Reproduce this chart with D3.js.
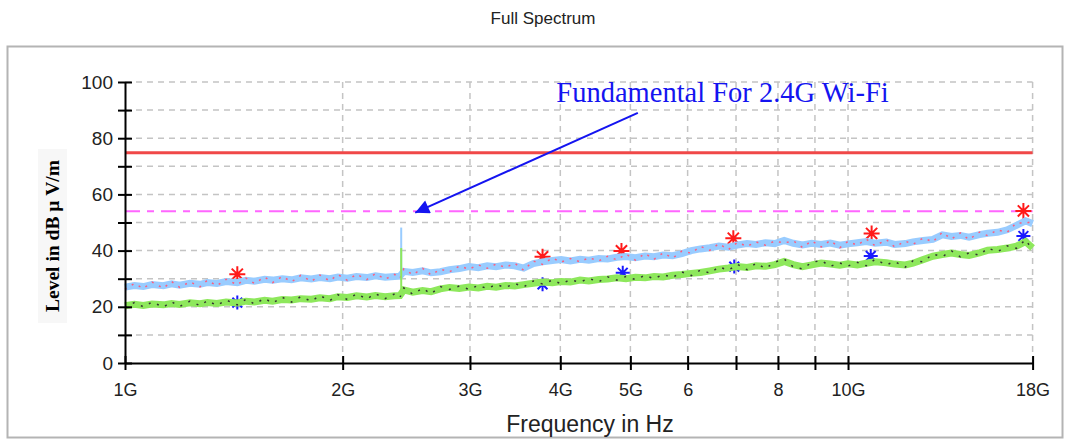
<!DOCTYPE html>
<html>
<head>
<meta charset="utf-8">
<script src="https://cdn.jsdelivr.net/npm/d3@7"></script>
<style>
  body { margin: 0; background: #fff; }
  text { font-family: "Liberation Sans", Arial, sans-serif; }
</style>
</head>
<body>
<div id="chart"></div>
<script>
var width = 1070;
var height = 441;

// frequency points in GHz
var freq = [1.00,1.03,1.06,1.09,1.13,1.16,1.19,1.23,1.27,1.30,
  1.34,1.38,1.43,1.47,1.51,1.56,1.60,1.65,1.70,1.75,
  1.81,1.86,1.92,1.97,2.03,2.09,2.16,2.22,2.29,2.36,
  2.40,2.43,2.50,2.58,2.65,2.73,2.81,2.90,2.99,3.08,
  3.17,3.26,3.36,3.46,3.56,3.67,3.78,3.90,4.01,4.13,
  4.26,4.38,4.52,4.65,4.79,4.93,5.08,5.24,5.39,5.55,
  5.72,5.89,6.07,6.25,6.44,6.63,6.83,7.03,7.25,7.46,
  7.69,7.92,8.16,8.40,8.65,8.91,9.18,9.45,9.74,10.0,
  10.3,10.6,10.9,11.3,11.6,12.0,12.3,12.7,13.1,13.5,
  13.9,14.3,14.7,15.2,15.6,16.1,16.6,17.1,17.6,18.0];

// light blue peak trace
var peakVert = [27.0,27.6,27.2,27.9,27.5,28.2,27.7,28.4,28.0,28.6,
  28.3,29.0,28.6,29.4,29.1,29.8,29.5,30.0,29.6,30.3,
  29.9,30.4,30.0,30.6,30.2,30.8,30.4,31.0,30.5,30.8,
  30.9,32.6,32.2,32.8,32.1,32.5,33.2,33.6,34.3,33.9,
  34.6,34.3,34.9,34.6,33.8,35.4,36.0,36.5,36.8,36.3,
  36.9,36.6,37.2,37.0,37.6,37.9,37.5,38.1,37.8,38.4,
  38.2,38.9,40.0,40.6,41.0,41.6,41.2,42.0,42.5,42.2,
  42.8,42.5,43.6,42.6,42.0,42.6,42.2,42.7,41.9,42.4,
  42.8,43.2,42.6,43.0,42.2,42.5,43.1,43.6,44.0,45.6,
  45.0,45.4,44.8,45.7,46.2,46.5,47.4,49.0,50.6,49.6];

// pink peak trace
var peakHor = [26.2,28.3,26.5,28.8,26.6,29.0,26.9,28.9,27.1,29.5,
  27.5,29.8,27.8,30.2,28.3,30.6,28.6,30.8,28.9,31.2,
  29.0,31.3,29.2,31.5,29.4,31.6,29.7,31.8,29.8,31.5,
  30.1,33.5,31.4,33.7,31.3,33.4,32.4,34.5,33.4,34.9,
  33.7,35.2,34.0,35.5,33.0,36.3,35.1,37.4,35.9,37.2,
  36.0,37.5,36.3,38.0,36.7,38.8,36.6,39.0,36.9,39.2,
  37.3,39.8,39.1,41.5,40.1,42.5,40.3,42.9,41.5,43.1,
  41.9,43.4,42.7,43.5,41.1,43.5,41.3,43.6,41.0,43.3,
  41.9,44.1,41.7,43.9,41.3,43.4,42.2,44.5,43.1,46.5,
  44.1,46.3,43.9,46.6,45.3,47.4,46.5,49.9,49.7,50.4];

// green average trace
var avgVert = [20.4,20.9,20.5,21.0,20.7,21.2,20.8,21.4,21.1,21.5,
  21.2,21.7,21.4,22.0,21.7,22.3,22.0,22.6,22.4,22.9,
  22.7,23.2,22.9,23.6,23.3,23.9,23.5,24.0,23.6,23.9,
  24.0,26.0,25.2,25.8,25.4,26.4,26.9,26.5,27.0,26.7,
  27.3,27.0,27.6,27.4,27.9,28.4,28.8,28.6,29.0,28.8,
  29.5,29.2,29.7,29.9,30.3,30.0,30.5,30.3,30.8,30.6,
  31.2,31.5,31.9,32.2,32.8,33.4,33.8,34.3,34.0,34.6,
  34.4,35.0,36.1,35.0,34.3,34.9,35.6,35.2,34.8,35.3,
  34.9,35.5,36.0,35.7,35.2,34.9,35.5,36.8,38.0,38.6,
  39.1,38.6,38.3,39.2,40.1,40.4,40.9,41.6,43.2,41.0];

// black average trace
var avgHor = [19.6,21.5,20.0,21.7,19.9,21.8,20.1,22.0,20.4,22.2,
  20.5,22.4,20.7,22.7,21.0,23.0,21.3,23.4,21.7,23.6,
  22.0,24.0,22.2,24.3,22.6,24.6,22.8,24.7,22.9,24.6,
  23.3,26.7,24.5,26.6,24.6,27.2,26.2,27.4,26.2,27.6,
  26.5,27.9,26.9,28.3,27.1,29.2,28.1,29.5,28.2,29.6,
  28.8,30.1,28.9,30.7,29.5,30.8,29.7,31.2,30.0,31.5,
  30.4,32.4,31.1,33.1,32.0,34.2,33.0,35.1,33.2,35.5,
  33.6,35.9,37.0,34.2,33.5,35.8,36.5,34.4,35.6,34.5,
  35.8,34.6,36.9,34.9,36.1,34.1,36.4,36.0,38.8,37.8,
  39.9,37.8,39.2,38.4,40.9,39.6,41.7,40.8,43.9,40.2];

// 2.4G fundamental spike
var spikeFreq = [2.41];
var spikeBase = [30.9];
var spikePeak = [48.2];
var spikeAvgBase = [24.0];
var spikeAvg = [40.9];

// final measurement markers
var peakMarkFreq = [1.43, 3.78, 4.86, 6.94, 10.78, 17.48];
var peakMarkLevel = [31.6, 37.8, 39.9, 44.4, 46.1, 54.1];
var avgMarkFreq = [1.43, 3.78, 4.88, 6.96, 10.75, 17.48];
var avgMarkLevel = [21.5, 28.0, 32.1, 34.3, 38.1, 45.2];

// limits
var limitPeak = 74.8;
var limitAvg = 54;

var xTicks = [1,2,3,4,5,6,7,8,9,10,18];
var xTickLabels = ["1G","2G","3G","4G","5G","6","","8","","10G","18G"];
var yTicks = [0,10,20,30,40,50,60,70,80,90,100];

var svg = d3.select("#chart").append("svg")
    .attr("width", width)
    .attr("height", height);

var x = d3.scaleLog().domain([1, 18]).range([125, 1032.6]);
var y = d3.scaleLinear().domain([0, 100]).range([363, 82]);

// title
svg.append("text")
    .attr("x", 543).attr("y", 24)
    .attr("text-anchor", "middle")
    .style("font-size", "17px")
    .attr("fill", "#222")
    .text("Full Spectrum");

// frame
svg.append("rect")
    .attr("x", 7.5).attr("y", 46.5)
    .attr("width", 1055).attr("height", 391)
    .attr("fill", "none")
    .attr("stroke", "#b4b4b4")
    .attr("stroke-width", 2);

// grid
var grid = svg.append("g").attr("class", "grid");
grid.selectAll(".hgrid")
    .data(yTicks.filter(function(d) { return d > 0; }))
    .enter().append("line")
    .attr("x1", x(1)).attr("x2", x(18))
    .attr("y1", function(d) { return y(d); })
    .attr("y2", function(d) { return y(d); })
    .attr("stroke", "#c4c4c4")
    .attr("stroke-width", 1.5)
    .attr("stroke-dasharray", "6,5");
grid.selectAll(".vgrid")
    .data(xTicks.slice(1))
    .enter().append("line")
    .attr("x1", function(d) { return x(d); })
    .attr("x2", function(d) { return x(d); })
    .attr("y1", y(100)).attr("y2", y(0))
    .attr("stroke", "#c4c4c4")
    .attr("stroke-width", 1.5)
    .attr("stroke-dasharray", "6,5");

// limit lines
svg.append("line")
    .attr("x1", x(1)).attr("x2", x(18))
    .attr("y1", y(limitPeak)).attr("y2", y(limitPeak))
    .attr("stroke", "#f04848")
    .attr("stroke-width", 3);
svg.append("line")
    .attr("x1", x(1)).attr("x2", x(18))
    .attr("y1", y(limitAvg)).attr("y2", y(limitAvg))
    .attr("stroke", "#ff66ff")
    .attr("stroke-width", 2)
    .attr("stroke-dasharray", "15,7,7,7");

// markers (asterisks), drawn under the traces
function star(s) {
    return "M0," + (-s) + "V" + s + "M" + (-s) + ",0H" + s +
        "M" + (-s * 0.7) + "," + (-s * 0.7) + "L" + (s * 0.7) + "," + (s * 0.7) +
        "M" + (s * 0.7) + "," + (-s * 0.7) + "L" + (-s * 0.7) + "," + (s * 0.7);
}
svg.selectAll(".pmark")
    .data(peakMarkFreq)
    .enter().append("path")
    .attr("transform", function(d, i) { return "translate(" + x(d) + "," + y(peakMarkLevel[i]) + ")"; })
    .attr("d", star(8))
    .attr("stroke", "#ff1a1a")
    .attr("stroke-width", 2)
    .attr("fill", "none");
svg.selectAll(".amark")
    .data(avgMarkFreq)
    .enter().append("path")
    .attr("transform", function(d, i) { return "translate(" + x(d) + "," + y(avgMarkLevel[i]) + ")"; })
    .attr("d", star(7))
    .attr("stroke", "#1a1aff")
    .attr("stroke-width", 2)
    .attr("fill", "none");

function traceLine(values) {
    return d3.line()
        .x(function(d, i) { return x(freq[i]); })
        .y(function(d) { return y(d); })(values);
}

svg.append("path")
    .attr("d", traceLine(peakVert))
    .attr("fill", "none")
    .attr("stroke", "#99ccff")
    .attr("stroke-width", 7);
svg.append("path")
    .attr("d", traceLine(peakHor))
    .attr("fill", "none")
    .attr("stroke", "#ff5c7c")
    .attr("stroke-width", 1.5)
    .attr("stroke-dasharray", "2,6");

svg.append("path")
    .attr("d", traceLine(avgVert))
    .attr("fill", "none")
    .attr("stroke", "#8ee85c")
    .attr("stroke-width", 7);
svg.append("path")
    .attr("d", traceLine(avgHor))
    .attr("fill", "none")
    .attr("stroke", "#333")
    .attr("stroke-width", 1.5)
    .attr("stroke-dasharray", "2,7");

// spike
svg.selectAll(".spikeP")
    .data(spikeFreq)
    .enter().append("line")
    .attr("x1", function(d) { return x(d); })
    .attr("x2", function(d) { return x(d); })
    .attr("y1", function(d, i) { return y(spikeBase[i]); })
    .attr("y2", function(d, i) { return y(spikePeak[i]); })
    .attr("stroke", "#99ccff")
    .attr("stroke-width", 2);
svg.selectAll(".spikeA")
    .data(spikeFreq)
    .enter().append("line")
    .attr("x1", function(d) { return x(d); })
    .attr("x2", function(d) { return x(d); })
    .attr("y1", function(d, i) { return y(spikeAvgBase[i]); })
    .attr("y2", function(d, i) { return y(spikeAvg[i]); })
    .attr("stroke", "#8ee85c")
    .attr("stroke-width", 2);

// axes
var yAxis = svg.append("g")
    .attr("transform", "translate(" + x(1) + ",0)")
    .call(d3.axisLeft(y).tickValues(yTicks)
        .tickFormat(function(d) { return d % 20 === 0 ? d : ""; })
        .tickSize(7).tickSizeOuter(0));
yAxis.selectAll(".tick line").attr("x1", -7).attr("x2", 7).attr("stroke-width", 2);
yAxis.select(".domain").attr("stroke-width", 2);
yAxis.selectAll(".tick text")
    .attr("x", -12)
    .style("font-size", "19px")
    .style("font-family", "'Liberation Sans', Arial, sans-serif")
    .attr("fill", "#222");

var xAxis = svg.append("g")
    .attr("transform", "translate(0," + y(0) + ")")
    .call(d3.axisBottom(x).tickValues(xTicks)
        .tickFormat(function(d, i) { return xTickLabels[i]; })
        .tickSize(7).tickSizeOuter(0));
xAxis.selectAll(".tick line").attr("y1", -7).attr("y2", 7).attr("stroke-width", 2);
xAxis.select(".domain").attr("stroke-width", 2);
xAxis.selectAll(".tick text")
    .attr("y", 20)
    .style("font-size", "18px")
    .style("font-family", "'Liberation Sans', Arial, sans-serif")
    .attr("fill", "#222");

// axis titles
svg.append("text")
    .attr("x", 590).attr("y", 432)
    .attr("text-anchor", "middle")
    .style("font-size", "23px")
    .attr("fill", "#222")
    .text("Frequency in Hz");

svg.append("rect")
    .attr("x", 38).attr("y", 149)
    .attr("width", 29).attr("height", 174)
    .attr("fill", "#f7f7f7");
svg.append("text")
    .attr("transform", "translate(59,236) rotate(-90)")
    .attr("text-anchor", "middle")
    .style("font-family", "'Liberation Serif', 'Times New Roman', serif")
    .style("font-weight", "bold")
    .style("font-size", "19.5px")
    .attr("fill", "#000")
    .text("Level in dB μ V/m");

// annotation
var noteFreq = 3.95, noteLevel = 92.8;
var arrowFrom = [5.12, 89], arrowTo = [2.52, 53.5];
svg.append("text")
    .attr("x", x(noteFreq)).attr("y", y(noteLevel))
    .style("font-family", "'Liberation Serif', 'Times New Roman', serif")
    .style("font-size", "28.5px")
    .attr("fill", "#1414f0")
    .text("Fundamental For 2.4G Wi-Fi");

svg.append("defs").append("marker")
    .attr("id", "arrow")
    .attr("viewBox", "0 0 10 10")
    .attr("refX", 10).attr("refY", 5)
    .attr("markerWidth", 9).attr("markerHeight", 7)
    .attr("markerUnits", "strokeWidth")
    .attr("orient", "auto")
    .append("path")
    .attr("d", "M0,0L10,5L0,10z")
    .attr("fill", "#1414f0");
svg.append("line")
    .attr("x1", x(arrowFrom[0])).attr("y1", y(arrowFrom[1]))
    .attr("x2", x(arrowTo[0])).attr("y2", y(arrowTo[1]))
    .attr("stroke", "#1414f0")
    .attr("stroke-width", 2)
    .attr("marker-end", "url(#arrow)");
</script>
</body>
</html>
